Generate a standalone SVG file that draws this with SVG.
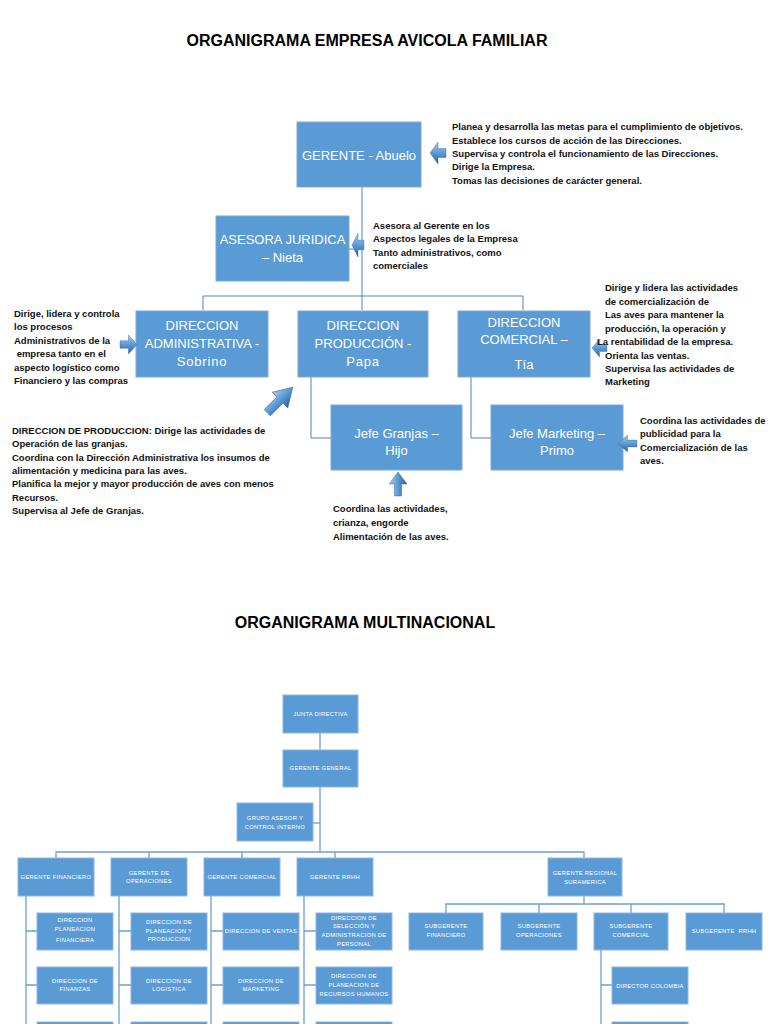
<svg xmlns="http://www.w3.org/2000/svg" xmlns:xlink="http://www.w3.org/1999/xlink" width="768" height="1024" viewBox="0 0 768 1024">
<style>
.title{font-family:"Liberation Sans",Arial,sans-serif;font-size:16px;font-weight:bold;fill:#000;text-anchor:middle}
.b1{fill:#5B9BD5;stroke:#7FA9DA;stroke-width:1}
.t1{font-family:"Liberation Sans",Arial,sans-serif;font-size:13px;fill:#fff;text-anchor:middle}
.d{font-family:"Liberation Sans",Arial,sans-serif;font-size:9.5px;font-weight:bold;fill:#111}
.l1{stroke:#4F81BD;stroke-width:1;fill:none}
.b2{fill:#5B9BD5;stroke:#8DB6E3;stroke-width:1}
.t2{font-family:"Liberation Sans",Arial,sans-serif;font-size:5.8px;letter-spacing:0.3px;fill:#fff;text-anchor:middle}
.l2{stroke:#6A9FD4;stroke-width:1.3;fill:none}
.arr{fill:url(#ag);stroke:#2F5F98;stroke-width:0.4}
</style>
<defs>
<linearGradient id="ag" x1="0" y1="0" x2="0" y2="1">
<stop offset="0" stop-color="#A9CBEE"/>
<stop offset="0.5" stop-color="#5B9BD5"/>
<stop offset="1" stop-color="#2C5F9E"/>
</linearGradient>
<path id="arrow" d="M0,6 H10 V0 L20,10 L10,20 V14 H0 Z"/>
</defs>
<rect width="768" height="1024" fill="#fff"/>

<text class="title" x="367" y="46">ORGANIGRAMA EMPRESA AVICOLA FAMILIAR</text>

<g id="connectors1">
<path class="l1" d="M362,187 V310"/>
<path class="l1" d="M349,249 H362"/>
<path class="l1" d="M203,310 V296 H523 V310"/>
<path class="l1" d="M311,377 V438 H331"/>
<path class="l1" d="M471,377 V438 H491"/>
</g>

<g id="gerente">
<rect class="b1" x="297" y="122" width="124" height="65"/>
<text class="t1" x="359" y="160">GERENTE - Abuelo</text>
</g>
<g id="asesora">
<rect class="b1" x="216" y="216" width="133" height="65"/>
<text class="t1" x="282.5" y="243.5">ASESORA JURIDICA</text>
<text class="t1" x="282.5" y="261.5">– Nieta</text>
</g>
<g id="dir-admin">
<rect class="b1" x="136" y="311" width="132" height="66"/>
<text class="t1" x="202" y="329.5">DIRECCION</text>
<text class="t1" x="202" y="347.5">ADMINISTRATIVA -</text>
<text class="t1" x="202" y="365.5" letter-spacing="0.8">Sobrino</text>
</g>
<g id="dir-produccion">
<rect class="b1" x="298" y="311" width="130" height="66"/>
<text class="t1" x="363" y="329.5">DIRECCION</text>
<text class="t1" x="363" y="347.5">PRODUCCIÓN -</text>
<text class="t1" x="363" y="365.5" letter-spacing="0.8">Papa</text>
</g>
<g id="dir-comercial">
<rect class="b1" x="458" y="311" width="132" height="66"/>
<text class="t1" x="524" y="326.5">DIRECCION</text>
<text class="t1" x="524" y="343.5">COMERCIAL –</text>
<text class="t1" x="524" y="368.5">Tía</text>
</g>
<g id="jefe-granjas">
<rect class="b1" x="331" y="405" width="131" height="65"/>
<text class="t1" x="396.5" y="437.5">Jefe Granjas –</text>
<text class="t1" x="396.5" y="454.5">Hijo</text>
</g>
<g id="jefe-marketing">
<rect class="b1" x="491" y="405" width="132" height="65"/>
<text class="t1" x="557" y="437.5">Jefe Marketing –</text>
<text class="t1" x="557" y="454.5">Primo</text>
</g>

<g id="arrows">
<use href="#arrow" class="arr" transform="translate(446,142) scale(-0.8,1.1)"/>
<use href="#arrow" class="arr" transform="translate(364,233) scale(-0.6,1.2)"/>
<use href="#arrow" class="arr" transform="translate(120,335) scale(0.85,0.95)"/>
<use href="#arrow" class="arr" transform="translate(607,339) scale(-0.75,0.9)"/>
<use href="#arrow" class="arr" transform="translate(637,435) scale(-0.95,0.85)"/>
<use href="#arrow" class="arr" transform="translate(389,496) rotate(-90) scale(1.2,0.9)"/>
<use href="#arrow" class="arr" transform="translate(280,400) rotate(-45) translate(-18,-11) scale(1.8,1.1)"/>
</g>

<g id="notes">
<text class="d" x="452" y="130">Planea y desarrolla las metas para el cumplimiento de objetivos.</text>
<text class="d" x="452" y="143.5">Establece los cursos de acción de las Direcciones.</text>
<text class="d" x="452" y="157">Supervisa y controla el funcionamiento de las Direcciones.</text>
<text class="d" x="452" y="170">Dirige la Empresa.</text>
<text class="d" x="452" y="183.5">Tomas las decisiones de carácter general.</text>

<text class="d" x="373" y="228.5">Asesora al Gerente en los</text>
<text class="d" x="373" y="242">Aspectos legales de la Empresa</text>
<text class="d" x="373" y="255.5">Tanto administrativos, como</text>
<text class="d" x="373" y="268.5">comerciales</text>

<text class="d" x="14" y="316.5">Dirige, lidera y controla</text>
<text class="d" x="14" y="330">los procesos</text>
<text class="d" x="14" y="343.5">Administrativos de la</text>
<text class="d" x="14" y="357" xml:space="preserve"> empresa tanto en el</text>
<text class="d" x="14" y="370.5">aspecto logístico como</text>
<text class="d" x="14" y="384">Financiero y las compras</text>

<text class="d" x="605" y="291">Dirige y lidera las actividades</text>
<text class="d" x="605" y="304.5">de comercialización de</text>
<text class="d" x="605" y="318">Las aves para mantener la</text>
<text class="d" x="605" y="331.5">producción, la operación y</text>
<text class="d" x="597" y="345">La rentabilidad de la empresa.</text>
<text class="d" x="605" y="358.5">Orienta las ventas.</text>
<text class="d" x="605" y="372">Supervisa las actividades de</text>
<text class="d" x="605" y="385">Marketing</text>

<text class="d" x="12" y="433.5">DIRECCION DE PRODUCCION: Dirige las actividades de</text>
<text class="d" x="12" y="447">Operación de las granjas.</text>
<text class="d" x="12" y="460.5">Coordina con la Dirección Administrativa los insumos de</text>
<text class="d" x="12" y="474">alimentación y medicina para las aves.</text>
<text class="d" x="12" y="487">Planifica la mejor y mayor producción de aves con menos</text>
<text class="d" x="12" y="500.5">Recursos.</text>
<text class="d" x="12" y="514">Supervisa al Jefe de Granjas.</text>

<text class="d" x="640" y="423.5">Coordina las actividades de</text>
<text class="d" x="640" y="437">publicidad para la</text>
<text class="d" x="640" y="450.5">Comercialización de las</text>
<text class="d" x="640" y="464">aves.</text>

<text class="d" x="333" y="511.5">Coordina las actividades,</text>
<text class="d" x="333" y="526">crianza, engorde</text>
<text class="d" x="333" y="540">Alimentación de las aves.</text>
</g>

<text class="title" x="365" y="628">ORGANIGRAMA MULTINACIONAL</text>

<g id="connectors2">
<path class="l2" d="M320,733 V750"/>
<path class="l2" d="M320,787 V852"/>
<path class="l2" d="M313,823 H320"/>
<path class="l2" d="M56,858 V852 H584 V858"/>
<path class="l2" d="M149,852 V858 M242,852 V858 M335,852 V858"/>
<path class="l2" d="M26,896 V1024 M26,931 H37 M26,985 H37"/>
<path class="l2" d="M119,896 V1024 M119,931 H131 M119,985 H131"/>
<path class="l2" d="M211,896 V1024 M211,931 H223 M211,985 H223"/>
<path class="l2" d="M304,896 V1024 M304,931 H316 M304,985 H316"/>
<path class="l2" d="M584,896 V904 M446,913 V904 H724 V913 M539,904 V913 M631,904 V913"/>
<path class="l2" d="M601,950 V1024 M601,985 H612"/>
</g>

<g id="junta"><rect class="b2" x="283" y="695" width="75" height="38"/><text class="t2" x="320.5" y="716">JUNTA DIRECTIVA</text></g>
<g id="gerente-general"><rect class="b2" x="283" y="750" width="75" height="37"/><text class="t2" x="320.5" y="770">GERENTE GENERAL</text></g>
<g id="grupo-asesor"><rect class="b2" x="237" y="803" width="76" height="38"/><text class="t2" x="275" y="820">GRUPO ASESOR Y</text><text class="t2" x="275" y="828.5">CONTROL INTERNO</text></g>

<g id="g-financiero"><rect class="b2" x="18" y="858" width="76" height="38"/><text class="t2" x="56" y="879" letter-spacing="0.1">GERENTE FINANCIERO</text></g>
<g id="g-operaciones"><rect class="b2" x="111" y="858" width="76" height="38"/><text class="t2" x="149" y="875">GERENTE DE</text><text class="t2" x="149" y="883">OPERACIONES</text></g>
<g id="g-comercial"><rect class="b2" x="204" y="858" width="76" height="38"/><text class="t2" x="242" y="879" letter-spacing="0.1">GERENTE COMERCIAL</text></g>
<g id="g-rrhh"><rect class="b2" x="297" y="858" width="76" height="38"/><text class="t2" x="335" y="879">GERENTE RRHH</text></g>
<g id="g-regional"><rect class="b2" x="548" y="858" width="74" height="38"/><text class="t2" x="585" y="875">GERENTE REGIONAL</text><text class="t2" x="585" y="884">SURAMERICA</text></g>

<g id="d-planeacion-fin"><rect class="b2" x="37" y="913" width="76" height="37"/><text class="t2" x="75" y="922">DIRECCION</text><text class="t2" x="75" y="931">PLANEACION</text><text class="t2" x="75" y="942">FINANCIERA</text></g>
<g id="d-finanzas"><rect class="b2" x="37" y="967" width="76" height="37"/><text class="t2" x="75" y="983">DIRECCION DE</text><text class="t2" x="75" y="991">FINANZAS</text></g>
<g id="d-fin-3"><rect class="b2" x="37" y="1022" width="76" height="37"/></g>

<g id="d-planeacion-prod"><rect class="b2" x="131" y="913" width="76" height="37"/><text class="t2" x="169" y="924">DIRECCION DE</text><text class="t2" x="169" y="933">PLANEACION Y</text><text class="t2" x="169" y="941">PRODUCCION</text></g>
<g id="d-logistica"><rect class="b2" x="131" y="967" width="76" height="37"/><text class="t2" x="169" y="983">DIRECCION DE</text><text class="t2" x="169" y="991">LOGISTICA</text></g>
<g id="d-ops-3"><rect class="b2" x="131" y="1022" width="76" height="37"/></g>

<g id="d-ventas"><rect class="b2" x="223" y="913" width="76" height="37"/><text class="t2" x="261" y="933" letter-spacing="0.1">DIRECCION DE VENTAS</text></g>
<g id="d-marketing"><rect class="b2" x="223" y="967" width="76" height="37"/><text class="t2" x="261" y="983">DIRECCION DE</text><text class="t2" x="261" y="991">MARKETING</text></g>
<g id="d-com-3"><rect class="b2" x="223" y="1022" width="76" height="37"/></g>

<g id="d-seleccion"><rect class="b2" x="316" y="913" width="76" height="37"/><text class="t2" x="354" y="920">DIRECCION DE</text><text class="t2" x="354" y="928">SELECCIÓN Y</text><text class="t2" x="354" y="937">ADMINISTRACION DE</text><text class="t2" x="354" y="946">PERSONAL</text></g>
<g id="d-planeacion-rrhh"><rect class="b2" x="316" y="967" width="76" height="37"/><text class="t2" x="354" y="978">DIRECCION DE</text><text class="t2" x="354" y="987">PLANEACION DE</text><text class="t2" x="354" y="996">RECURSOS HUMANOS</text></g>
<g id="d-rrhh-3"><rect class="b2" x="316" y="1022" width="76" height="37"/></g>

<g id="s-financiero"><rect class="b2" x="409" y="913" width="74" height="37"/><text class="t2" x="446" y="928">SUBGERENTE</text><text class="t2" x="446" y="937">FINANCIERO</text></g>
<g id="s-operaciones"><rect class="b2" x="501" y="913" width="76" height="37"/><text class="t2" x="539" y="928">SUBGERENTE</text><text class="t2" x="539" y="937">OPERACIONES</text></g>
<g id="s-comercial"><rect class="b2" x="594" y="913" width="74" height="37"/><text class="t2" x="631" y="928">SUBGERENTE</text><text class="t2" x="631" y="937">COMERCIAL</text></g>
<g id="s-rrhh"><rect class="b2" x="686" y="913" width="76" height="37"/><text class="t2" x="724" y="933" xml:space="preserve">SUBGERENTE  RRHH</text></g>
<g id="director-colombia"><rect class="b2" x="612" y="967" width="76" height="37"/><text class="t2" x="650" y="988">DIRECTOR COLOMBIA</text></g>
<g id="director-2"><rect class="b2" x="612" y="1022" width="76" height="37"/></g>
</svg>
